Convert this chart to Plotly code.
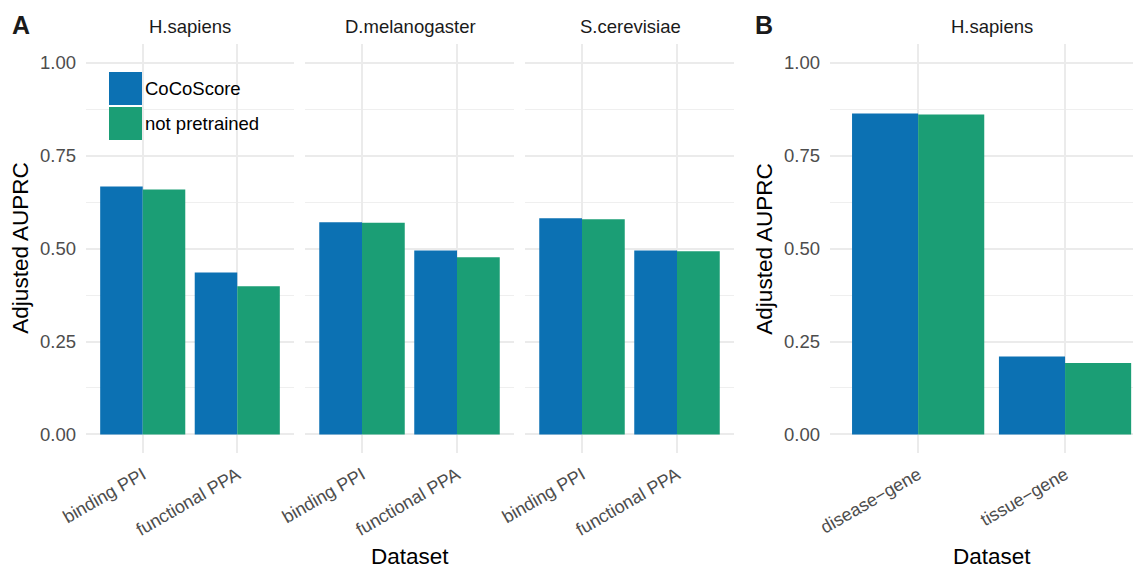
import plotly.graph_objects as go

# ---------------- data ----------------
categories_A = ["binding PPI", "functional PPA"]
species_A = ["H.sapiens", "D.melanogaster", "S.cerevisiae"]
cocoscore_hs = [0.667, 0.436]
notpre_hs = [0.659, 0.399]
cocoscore_dm = [0.571, 0.495]
notpre_dm = [0.570, 0.477]
cocoscore_sc = [0.582, 0.495]
notpre_sc = [0.579, 0.493]

categories_B = ["disease\u2212gene", "tissue\u2212gene"]
species_B = ["H.sapiens"]
cocoscore_B = [0.864, 0.210]
notpre_B = [0.861, 0.192]

series_names = ["CoCoScore", "not pretrained"]
y_ticks = [0, 0.25, 0.5, 0.75, 1.0]
y_ticklabels = ["0.00", "0.25", "0.50", "0.75", "1.00"]

# ---------------- style ----------------
OFF = 8  # page body margin in the browser
W, H = 1141 - OFF, 568 - OFF
BLUE = "#0C71B3"
GREEN = "#1B9E75"
GRID = "#EBEBEB"
FONT = "Liberation Sans, Arial, Helvetica, sans-serif"
TICK_COL = "#4D4D4D"


def px(x):
    return (x - OFF) / W


def py(y):
    return 1 - (y - OFF) / H


panels = [
    (86, 294), (305, 514), (525, 734), (830, 1141)
]
y_top, y_bot = 44.3, 453
xranges = [[-0.6, 1.6], [-0.6, 1.6], [-0.6, 1.6], [-0.6, 1.517]]

facet_data = [
    (categories_A, cocoscore_hs, notpre_hs),
    (categories_A, cocoscore_dm, notpre_dm),
    (categories_A, cocoscore_sc, notpre_sc),
    (categories_B, cocoscore_B, notpre_B),
]

fig = go.Figure()
for i, (cats, c1, c2) in enumerate(facet_data):
    ax = "" if i == 0 else str(i + 1)
    for name, vals, col in [(series_names[0], c1, BLUE), (series_names[1], c2, GREEN)]:
        fig.add_trace(go.Bar(
            x=cats, y=vals, name=name, marker=dict(color=col, line=dict(width=0)),
            xaxis="x" + ax, yaxis="y" + ax, showlegend=False,
            hovertemplate="%{x}: %{y:.3f}<extra>" + name + "</extra>",
        ))

layout = dict(
    width=W, height=H,
    margin=dict(l=0, r=0, t=0, b=0, autoexpand=False),
    paper_bgcolor="white", plot_bgcolor="white",
    barmode="group", bargap=0.1, bargroupgap=0,
    font=dict(family=FONT, color="#1A1A1A"),
    showlegend=False,
)

for i, (x0, x1) in enumerate(panels):
    ax = "" if i == 0 else str(i + 1)
    layout["xaxis" + ax] = dict(
        domain=[max(0, px(x0)), min(1, px(x1))], anchor="y" + ax, type="category",
        range=xranges[i], showgrid=True, gridcolor=GRID, gridwidth=1.6,
        zeroline=False, showline=False, ticks="", tickangle=-30,
        tickfont=dict(size=18, color=TICK_COL, family=FONT),
        ticklabelstandoff=7, fixedrange=True, automargin=False,
    )
    layout["yaxis" + ax] = dict(
        domain=[py(y_bot), py(y_top)], anchor="x" + ax,
        range=[-0.05, 1.05], tickvals=y_ticks, ticktext=y_ticklabels,
        showticklabels=(i in (0, 3)),
        showgrid=True, gridcolor=GRID, gridwidth=1.6,
        minor=dict(dtick=0.125, tick0=0, showgrid=True, gridcolor="#EFEFEF", gridwidth=1),
        zeroline=False, showline=False, ticks="",
        tickfont=dict(size=18.5, color=TICK_COL, family=FONT),
        ticklabelstandoff=9, fixedrange=True, automargin=False,
    )

annotations = []
# strip labels
strip_labels = species_A + species_B
strip_centers = [190, 410, 630, 992]
for cx, lab in zip(strip_centers, strip_labels):
    annotations.append(dict(text=lab, x=px(cx), y=py(27), xref="paper", yref="paper",
                            showarrow=False, font=dict(size=18.5, color="#1A1A1A", family=FONT),
                            xanchor="center", yanchor="middle"))
# panel letters
for lab, x in [("A", 21), ("B", 764)]:
    annotations.append(dict(text="<b>" + lab + "</b>", x=px(x), y=py(25), xref="paper", yref="paper",
                            showarrow=False, font=dict(size=25, color="#1A1A1A", family=FONT),
                            xanchor="center", yanchor="middle"))
# axis titles
for x in [410, 992]:
    annotations.append(dict(text="Dataset", x=px(x), y=py(556), xref="paper", yref="paper",
                            showarrow=False, font=dict(size=22.5, color="#000000", family=FONT),
                            xanchor="center", yanchor="middle"))
for x in [21, 765]:
    annotations.append(dict(text="Adjusted AUPRC", x=px(x), y=py((y_top + y_bot) / 2),
                            xref="paper", yref="paper", textangle=-90,
                            showarrow=False, font=dict(size=22.5, color="#000000", family=FONT),
                            xanchor="center", yanchor="middle"))

# legend (drawn manually, inside first facet)
shapes = []
legend_items = [(series_names[0], BLUE, 72, 105), (series_names[1], GREEN, 107, 140)]
for name, col, t, b in legend_items:
    shapes.append(dict(type="rect", xref="paper", yref="paper", x0=px(109), x1=px(142),
                       y0=py(b), y1=py(t), fillcolor=col, line=dict(width=0), layer="above"))
    annotations.append(dict(text=name, x=px(143), y=py((t + b) / 2), xref="paper", yref="paper",
                            showarrow=False, font=dict(size=18.5, color="#000000", family=FONT),
                            xanchor="left", yanchor="middle"))

layout["annotations"] = annotations
layout["shapes"] = shapes
fig.update_layout(**layout)
fig.write_html("out.html")
